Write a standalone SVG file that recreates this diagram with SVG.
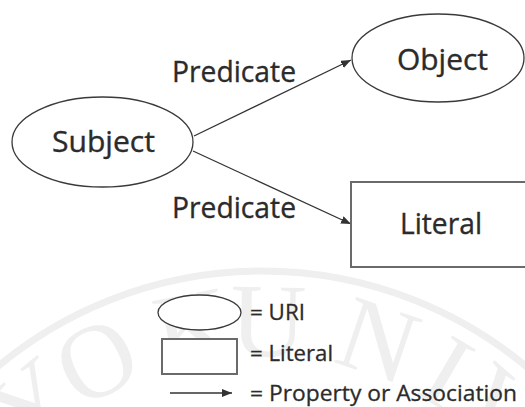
<svg xmlns="http://www.w3.org/2000/svg" width="525" height="407" viewBox="0 0 525 407">
  <style>
    .shape { fill: #ffffff; stroke: #3a3a3a; stroke-width: 1.3; }
    .box { fill: #ffffff; stroke: #6a6a6a; stroke-width: 2; }
    .edge { fill: none; stroke: #333333; stroke-width: 1.3; }
    .label { font-family: "Open Sans", "Liberation Sans", sans-serif; font-size: 28.5px; fill: #2b2b2b; stroke: #2b2b2b; stroke-width: 0.35; }
    .key { font-family: "Open Sans", "Liberation Sans", sans-serif; font-size: 22px; fill: #2b2b2b; stroke: #2b2b2b; stroke-width: 0.3; }
    .mark { font-family: "Liberation Serif", serif; font-size: 105px; fill: #efefef; text-anchor: middle; }
  </style>
  <defs>
    <marker id="head" viewBox="0 0 10 8" refX="10" refY="4" markerWidth="10" markerHeight="8" markerUnits="userSpaceOnUse" orient="auto">
      <path d="M0,0 L10,4 L0,8 Z" fill="#333333"/>
    </marker>
  </defs>

  <rect width="525" height="407" fill="#ffffff"/>

  <!-- faint seal in the background -->
  <g id="seal">
    <circle cx="262" cy="684" r="413" fill="none" stroke="#efefef" stroke-width="7"/>
    <text class="mark" x="262" y="356" transform="rotate(-39.4 262 684)">Y</text>
    <text class="mark" x="262" y="356" transform="rotate(-27.1 262 684)">O</text>
    <text class="mark" x="262" y="356" transform="rotate(-11 262 684)">K</text>
    <text class="mark" x="262" y="356" transform="rotate(1 262 684)">U</text>
    <text class="mark" x="262" y="356" transform="rotate(18.7 262 684)">N</text>
    <text class="mark" x="262" y="356" transform="rotate(30.6 262 684)">I</text>
    <text class="mark" x="262" y="356" transform="rotate(41 262 684)">V</text>
  </g>

  <!-- connectors -->
  <g id="edges">
    <line class="edge" x1="194" y1="136" x2="351" y2="60" marker-end="url(#head)"/>
    <line class="edge" x1="193" y1="151" x2="351" y2="224" marker-end="url(#head)"/>
    <text class="label" x="172" y="82" textLength="124" lengthAdjust="spacingAndGlyphs">Predicate</text>
    <text class="label" x="172" y="218" textLength="124" lengthAdjust="spacingAndGlyphs">Predicate</text>
  </g>

  <g id="subject">
    <ellipse class="shape" cx="102.5" cy="142" rx="90.5" ry="45"/>
    <text class="label" x="52" y="152" textLength="103" lengthAdjust="spacingAndGlyphs">Subject</text>
  </g>

  <g id="object">
    <ellipse class="shape" cx="438" cy="58" rx="86" ry="44"/>
    <text class="label" x="397" y="70" textLength="91" lengthAdjust="spacingAndGlyphs">Object</text>
  </g>

  <g id="literal">
    <rect class="box" x="351" y="182" width="184" height="85"/>
    <text class="label" x="400" y="234" textLength="82" lengthAdjust="spacingAndGlyphs">Literal</text>
  </g>

  <!-- key -->
  <g id="legend">
    <ellipse class="shape" cx="199.5" cy="312.5" rx="41.5" ry="17.5"/>
    <text class="key" x="250" y="320" textLength="55" lengthAdjust="spacingAndGlyphs">= URI</text>
    <rect class="box" x="162" y="339" width="75" height="35"/>
    <text class="key" x="250" y="361" textLength="83" lengthAdjust="spacingAndGlyphs">= Literal</text>
    <line class="edge" x1="170" y1="393" x2="232" y2="393" marker-end="url(#head)"/>
    <text class="key" x="250" y="401" textLength="267" lengthAdjust="spacingAndGlyphs">= Property or Association</text>
  </g>
</svg>
